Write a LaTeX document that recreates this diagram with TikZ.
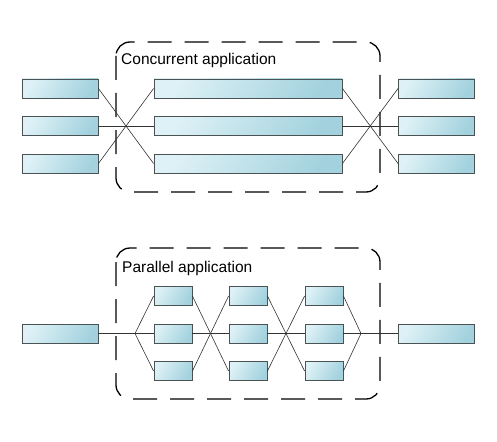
\documentclass[tikz,border=0pt]{standalone}
\usepackage{fontspec}
\setmainfont{Liberation Sans}
\definecolor{boxlight}{HTML}{DDF1F6}
\definecolor{boxdark}{HTML}{A3D2DE}
\definecolor{boxedge}{HTML}{4A5254}
\begin{document}
\begin{tikzpicture}[x=1pt,y=-1pt,
  blk/.style={draw=boxedge, line width=0.9pt, inner sep=0pt, anchor=center,
    minimum height=19pt, left color=boxlight, right color=boxdark,
    shading angle=60},
  lng/.style={blk, minimum width=76pt},
  vlng/.style={blk, minimum width=188pt},
  sml/.style={blk, minimum width=38pt},
  wire/.style={draw=black!80, line width=0.6pt},
  frame/.style={draw=black, line width=1.3pt, dash pattern=on 24pt off 13pt, rounded corners=14pt},
  lbl/.style={font=\fontsize{15.5}{18}\selectfont, inner sep=0pt, anchor=base west}]
\useasboundingbox (0,0) rectangle (497,441);
\fill[white] (0,0) rectangle (497,441);

% ---------- Concurrent ----------
\draw[frame] (116,42) rectangle (380,192);
\node[lbl] (tc) at (121,65) {Concurrent application};

\node[lng] (a1) at (60,88.5) {};
\node[lng] (a2) at (60,126) {};
\node[lng] (a3) at (60,163.5) {};
\node[vlng] (m1) at (248,88.5) {};
\node[vlng] (m2) at (248,126) {};
\node[vlng] (m3) at (248,163.5) {};
\node[lng] (b1) at (436.5,88.5) {};
\node[lng] (b2) at (436.5,126) {};
\node[lng] (b3) at (436.5,163.5) {};

\draw[wire] (a1.east) -- (m3.west);
\draw[wire] (a2.east) -- (m2.west);
\draw[wire] (a3.east) -- (m1.west);
\draw[wire] (m1.east) -- (b3.west);
\draw[wire] (m2.east) -- (b2.west);
\draw[wire] (m3.east) -- (b1.west);

% ---------- Parallel ----------
\draw[frame] (116,248) rectangle (380,399);
\node[lbl] (tp) at (122,272) {Parallel application};

\node[lng] (pin) at (60,333.5) {};
\node[lng] (pout) at (436.5,333.5) {};
\coordinate (sp) at (135,333.5);
\coordinate (mg) at (361,333.5);

\node[sml] (c11) at (173,296) {};
\node[sml] (c12) at (173,333.5) {};
\node[sml] (c13) at (173,371) {};
\node[sml] (c21) at (248,296) {};
\node[sml] (c22) at (248,333.5) {};
\node[sml] (c23) at (248,371) {};
\node[sml] (c31) at (324,296) {};
\node[sml] (c32) at (324,333.5) {};
\node[sml] (c33) at (324,371) {};

\draw[wire] (pin.east) -- (sp);
\draw[wire] (sp) -- (c11.west);
\draw[wire] (sp) -- (c12.west);
\draw[wire] (sp) -- (c13.west);
\draw[wire] (c11.east) -- (c23.west);
\draw[wire] (c12.east) -- (c22.west);
\draw[wire] (c13.east) -- (c21.west);
\draw[wire] (c21.east) -- (c33.west);
\draw[wire] (c22.east) -- (c32.west);
\draw[wire] (c23.east) -- (c31.west);
\draw[wire] (c31.east) -- (mg);
\draw[wire] (c32.east) -- (mg);
\draw[wire] (c33.east) -- (mg);
\draw[wire] (mg) -- (pout.west);
\end{tikzpicture}
\end{document}
